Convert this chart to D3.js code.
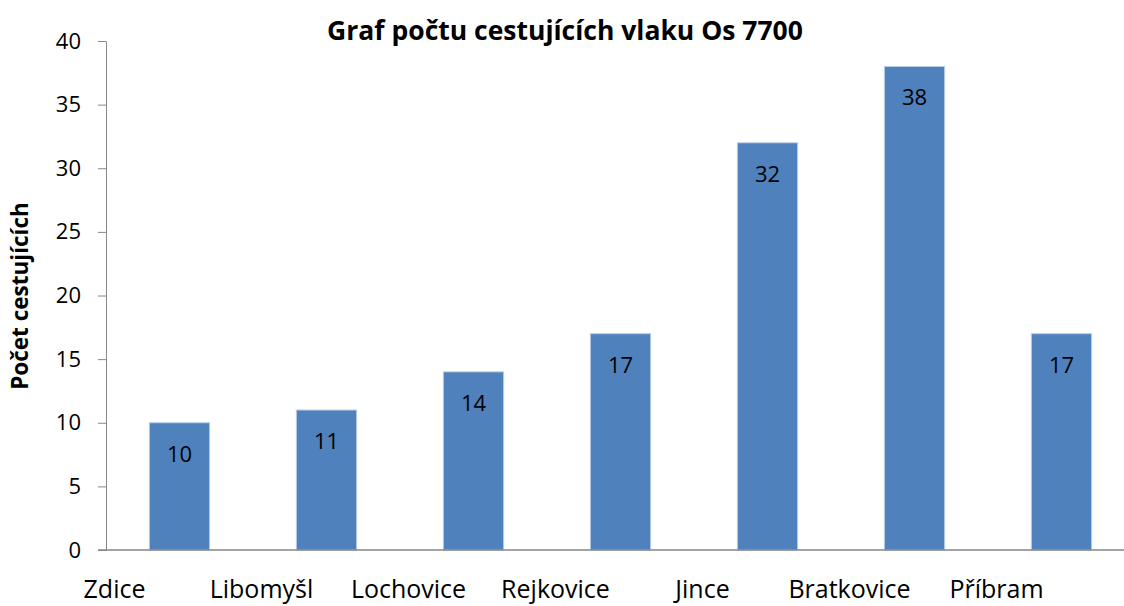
<!DOCTYPE html>
<html>
<head>
<meta charset="utf-8">
<script src="https://cdn.jsdelivr.net/npm/d3@7"></script>
<style>
  body { margin: 0; background: #fff; }
  text { font-family: "Open Sans", sans-serif; fill: #000; }
</style>
</head>
<body>
<svg id="bar-chart" width="1124" height="606"></svg>
<script>
// Data for the chart
const stations = ["Zdice", "Libomyšl", "Lochovice", "Rejkovice", "Jince", "Bratkovice", "Příbram"];
const passengers = [10, 11, 14, 17, 32, 38, 17];
const yTicks = [0, 5, 10, 15, 20, 25, 30, 35, 40];

const svg = d3.select("#bar-chart");

// Scales
const x = d3.scaleBand()
  .domain(stations)
  .range([106, 1135])
  .paddingInner(0.59)
  .paddingOuter(0.295);

const y = d3.scaleLinear()
  .domain([0, 40])
  .range([550, 41]);

// Bars
svg.selectAll(".bar")
  .data(stations)
  .enter()
  .append("rect")
  .attr("class", "bar")
  .attr("x", d => x(d))
  .attr("y", (d, i) => y(passengers[i]))
  .attr("width", x.bandwidth())
  .attr("height", (d, i) => y(0) - y(passengers[i]))
  .attr("fill", "#4f81bd")
  .attr("stroke", "#b9cde5")
  .attr("stroke-width", 1);

// Value labels inside bars
svg.selectAll(".value")
  .data(stations)
  .enter()
  .append("text")
  .attr("class", "value")
  .attr("x", d => x(d) + x.bandwidth() / 2)
  .attr("y", (d, i) => y(passengers[i]) + 39)
  .attr("text-anchor", "middle")
  .attr("font-size", "22px")
  .text((d, i) => passengers[i]);

// Y axis
const yAxis = svg.append("g")
  .attr("transform", "translate(106,0)")
  .call(d3.axisLeft(y).tickValues(yTicks).tickSize(8).tickSizeOuter(0).tickPadding(17));

yAxis.select(".domain").attr("stroke", "#868686");
yAxis.selectAll(".tick line").attr("stroke", "#868686");
yAxis.selectAll(".tick text")
  .attr("font-family", "Open Sans, sans-serif")
  .attr("font-size", "22px")
  .attr("fill", "#000");

// X axis line
svg.append("line")
  .attr("x1", 98)
  .attr("x2", 1124)
  .attr("y1", y(0))
  .attr("y2", y(0))
  .attr("stroke", "#868686")
  .attr("stroke-width", 1.5);

// Category labels (sit left of each bar, as in the original)
svg.selectAll(".cat")
  .data(stations)
  .enter()
  .append("text")
  .attr("class", "cat")
  .attr("x", d => x(d) + x.bandwidth() / 2 - 65)
  .attr("y", 598)
  .attr("text-anchor", "middle")
  .attr("font-size", "25px")
  .text(d => d);

// Title
svg.append("text")
  .attr("x", 565)
  .attr("y", 40)
  .attr("text-anchor", "middle")
  .attr("font-size", "26.5px")
  .attr("font-weight", "bold")
  .text("Graf počtu cestujících vlaku Os 7700");

// Y axis title
svg.append("text")
  .attr("transform", "translate(28,296) rotate(-90)")
  .attr("text-anchor", "middle")
  .attr("font-size", "22.5px")
  .attr("font-weight", "bold")
  .text("Počet cestujících");
</script>
</body>
</html>
